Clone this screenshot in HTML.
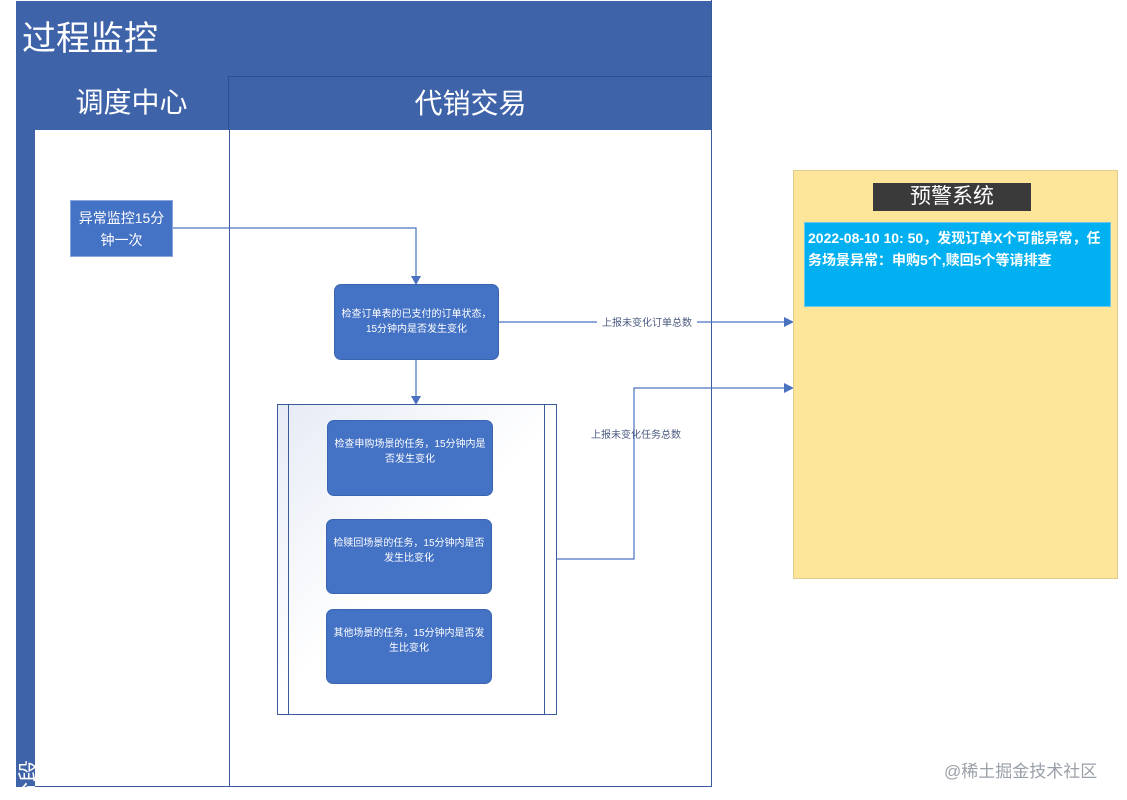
<!DOCTYPE html>
<html><head><meta charset="utf-8"><style>
body{margin:0;width:1127px;height:800px;background:#fff;position:relative;overflow:hidden;font-family:"Liberation Sans","Noto Sans CJK SC",sans-serif}
.a{position:absolute;box-sizing:border-box}
.blue{background:#4472c4;color:#fff;display:flex;align-items:center;justify-content:center;text-align:center;font-size:10px;line-height:15px;border-radius:7px;border:1px solid #3a64b0}
</style></head><body>
<div class="a" style="left:16px;top:1px;width:696px;height:786px;border:1px solid #3a5a9a;background:#fff"></div>
<div class="a" style="left:16px;top:1px;width:696px;height:76px;background:#3f63a9;color:#fff;font-size:34px;line-height:76px;padding-left:6px">过程监控</div>
<div class="a" style="left:16px;top:76px;width:19px;height:711px;background:#3f63a9;overflow:hidden"><div style="position:absolute;left:-10px;top:690px;color:#fff;font-size:22px;transform:rotate(-90deg);white-space:nowrap">阶段</div></div>
<div class="a" style="left:35px;top:76px;width:194px;height:54px;background:#3f63a9;color:#fff;font-size:28px;line-height:54px;text-align:center;border-right:1px solid #2f4f90">调度中心</div>
<div class="a" style="left:229px;top:76px;width:483px;height:54px;background:#3f63a9;color:#fff;font-size:28px;line-height:54px;text-align:center;border-top:1px solid #2f4f90">代销交易</div>
<div class="a" style="left:229px;top:130px;width:1px;height:657px;background:#3a5a9a"></div>
<div class="a" style="left:35px;top:786px;width:677px;height:1px;background:#3a5a9a"></div>
<div class="a blue" style="left:70px;top:200px;width:103px;height:57px;border-radius:0;font-size:14px;line-height:22px;border:1px solid #8aa6dc">异常监控15分<br>钟一次</div>
<div class="a blue" style="left:334px;top:284px;width:165px;height:76px">检查订单表的已支付的订单状态，<br>15分钟内是否发生变化</div>
<div class="a" style="left:277px;top:404px;width:280px;height:311px;border:1px solid #3a5a9a;background:linear-gradient(135deg,#e6ebf5,#fff 50%)"></div>
<div class="a" style="left:288px;top:404px;width:1px;height:311px;background:#3a5a9a"></div>
<div class="a" style="left:544px;top:404px;width:1px;height:311px;background:#3a5a9a"></div>
<div class="a blue" style="left:327px;top:420px;width:166px;height:76px;padding-bottom:12px">检查申购场景的任务，15分钟内是<br>否发生变化</div>
<div class="a blue" style="left:326px;top:519px;width:166px;height:75px;padding-bottom:12px">检赎回场景的任务，15分钟内是否<br>发生比变化</div>
<div class="a blue" style="left:326px;top:609px;width:166px;height:75px;padding-bottom:12px">其他场景的任务，15分钟内是否发<br>生比变化</div>
<div class="a" style="left:711px;top:0;width:1px;height:787px;background:#3a5a9a"></div>
<svg class="a" style="left:0;top:0" width="1127" height="800">
<g stroke="#4a72c0" stroke-width="1.2" fill="none">
<path d="M173 228H416V278"/><path d="M416 360V398"/>
<path d="M499 322H787"/><path d="M557 559H634V388H787"/>
</g>
<g fill="#4a72c0">
<path d="M411 276L421 276L416 285Z"/><path d="M411 396L421 396L416 405Z"/>
<path d="M784 317L784 327L794 322Z"/><path d="M784 383L784 393L794 388Z"/>
</g>
<rect x="597" y="315" width="100" height="14" fill="#fff"/>
<text x="647" y="326" font-size="10" fill="#4a5a80" text-anchor="middle" font-family="Liberation Sans,Noto Sans CJK SC,sans-serif">上报未变化订单总数</text>
<text x="636" y="438" font-size="10" fill="#4a5a80" text-anchor="middle" font-family="Liberation Sans,Noto Sans CJK SC,sans-serif">上报未变化任务总数</text>
</svg>
<div class="a" style="left:793px;top:170px;width:325px;height:409px;background:#fde59a;border:1px solid #e0cc90"></div>
<div class="a" style="left:873px;top:183px;width:158px;height:28px;background:#3a3a3a;color:#fff;font-size:21px;line-height:28px;text-align:center">预警系统</div>
<div class="a" style="left:804px;top:222px;width:307px;height:85px;background:#00b0f0;color:#fff;font-weight:bold;font-size:14px;line-height:22px;padding:4px 3px;border:1px solid #6cc6ea">2022-08-10 10: 50，发现订单X个可能异常，任务场景异常：申购5个,赎回5个等请排查</div>
<div class="a" style="left:944px;top:757px;font-size:17px;color:#9aa0a8">@稀土掘金技术社区</div>
</body></html>
